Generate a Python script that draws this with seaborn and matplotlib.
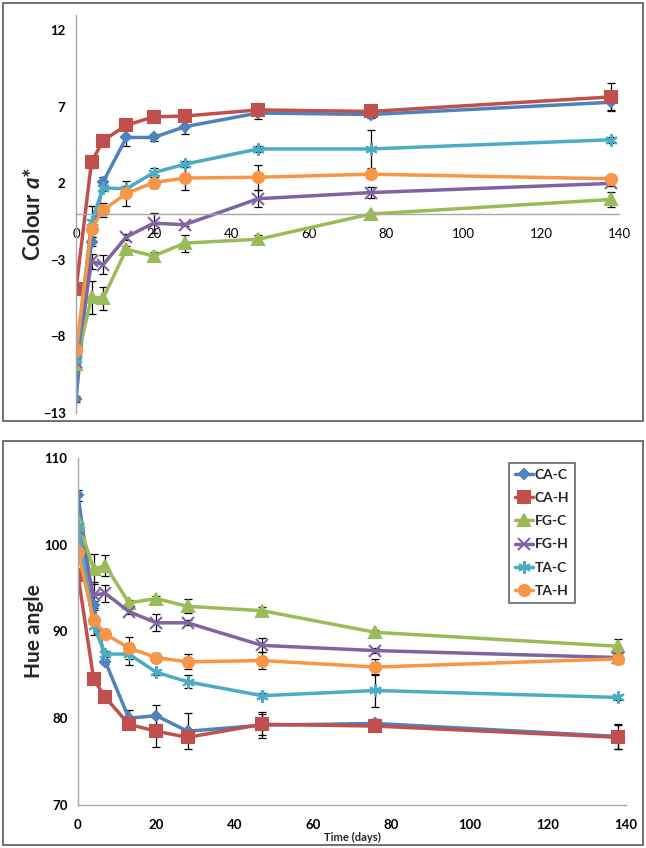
import numpy as np
import pandas as pd
import seaborn as sns
from matplotlib import pyplot as plt
from matplotlib.patches import Rectangle

# storage time (days)
days = [0, 4, 7, 13, 20, 28, 47, 76, 138]
series = ['CA-C', 'CA-H', 'FG-C', 'FG-H', 'TA-C', 'TA-H']

# colour a* values
a_ca_c = [-12.1, -1.8, 2.1, 5.0, 5.0, 5.7, 6.6, 6.5, 7.3]
a_ca_h = [-4.9, 3.4, 4.8, 5.8, 6.35, 6.4, 6.8, 6.7, 7.65]
a_fg_c = [-9.8, -5.45, -5.5, -2.3, -2.75, -1.9, -1.65, 0.0, 0.95]
a_fg_h = [-9.7, -3.1, -3.3, -1.5, -0.6, -0.7, 1.0, 1.4, 2.0]
a_ta_c = [-9.5, -0.5, 1.7, 1.65, 2.7, 3.25, 4.25, 4.25, 4.85]
a_ta_h = [-8.9, -0.95, 0.25, 1.35, 2.05, 2.35, 2.4, 2.6, 2.3]

a_err_ca_c = [0.2, 0.3, 0.3, 0.55, 0.25, 0.5, 0.4, 0.2, 0.5]
a_err_ca_h = [0.2, 0.4, 0.2, 0.2, 0.2, 0.2, 0.2, 0.2, 0.9]
a_err_fg_c = [0.2, 1.1, 0.75, 0.2, 0.25, 0.55, 0.3, 0.1, 0.5]
a_err_fg_h = [0.2, 0.5, 0.65, 0.2, 0.65, 0.1, 0.55, 0.35, 0.2]
a_err_ta_c = [0.2, 1.0, 0.2, 0.2, 0.3, 0.2, 0.2, 1.25, 0.2]
a_err_ta_h = [0.2, 0.3, 0.45, 0.8, 0.35, 0.75, 0.8, 0.2, 0.2]

# hue angle values
h_ca_c = [105.7, 93.0, 86.5, 80.0, 80.3, 78.5, 79.2, 79.4, 77.9]
h_ca_h = [96.5, 84.5, 82.4, 79.3, 78.5, 77.8, 79.3, 79.1, 77.8]
h_fg_c = [102.7, 97.2, 97.6, 93.3, 93.8, 92.9, 92.4, 89.9, 88.3]
h_fg_h = [101.8, 94.2, 94.4, 92.3, 91.0, 91.0, 88.4, 87.8, 87.0]
h_ta_c = [102.2, 90.6, 87.4, 87.4, 85.3, 84.2, 82.6, 83.2, 82.4]
h_ta_h = [99.2, 91.3, 89.7, 88.1, 87.0, 86.5, 86.65, 85.9, 86.85]

h_err_ca_c = [0.6, 0.5, 0.3, 0.9, 1.2, 2.1, 1.5, 0.5, 1.4]
h_err_ca_h = [0.3, 0.5, 0.3, 0.3, 1.8, 0.5, 1.2, 0.3, 1.4]
h_err_fg_c = [0.4, 1.7, 1.25, 0.3, 0.3, 0.8, 0.4, 0.3, 0.8]
h_err_fg_h = [0.4, 1.5, 1.0, 0.3, 1.0, 0.3, 0.8, 0.3, 0.3]
h_err_ta_c = [0.4, 1.0, 0.3, 1.25, 0.3, 0.75, 0.3, 1.9, 0.3]
h_err_ta_h = [0.5, 0.4, 0.6, 1.3, 0.5, 0.85, 1.0, 0.9, 0.3]

colours = {'CA-C': '#4F81BD', 'CA-H': '#C0504D', 'FG-C': '#9BBB59',
           'FG-H': '#8064A2', 'TA-C': '#4BACC6', 'TA-H': '#F79646'}
markers = {'CA-C': 'D', 'CA-H': 's', 'FG-C': '^', 'FG-H': 'x',
           'TA-C': (6, 2, 0), 'TA-H': 'o'}
msizes = {'CA-C': 5, 'CA-H': 8, 'FG-C': 8, 'FG-H': 8, 'TA-C': 9, 'TA-H': 8}

a_vals = [a_ca_c, a_ca_h, a_fg_c, a_fg_h, a_ta_c, a_ta_h]
a_errs = [a_err_ca_c, a_err_ca_h, a_err_fg_c, a_err_fg_h, a_err_ta_c, a_err_ta_h]
h_vals = [h_ca_c, h_ca_h, h_fg_c, h_fg_h, h_ta_c, h_ta_h]
h_errs = [h_err_ca_c, h_err_ca_h, h_err_fg_c, h_err_fg_h, h_err_ta_c, h_err_ta_h]


def long_frame(vals, errs):
    rows = []
    for name, v, e in zip(series, vals, errs):
        for d, y, s in zip(days, v, e):
            rows.append({'day': d, 'value': y, 'err': s, 'sample': name})
    return pd.DataFrame(rows)


def draw_panel(ax, df):
    handles = []
    for name in series:
        sub = df[df['sample'] == name]
        ax.errorbar(sub['day'], sub['value'], yerr=sub['err'], fmt='none',
                    ecolor='black', elinewidth=0.9, capsize=3, capthick=0.9, zorder=1)
    for name in series:
        sub = df[df['sample'] == name]
        n_before = len(ax.get_lines())
        sns.lineplot(data=sub, x='day', y='value', color=colours[name],
                     marker=markers[name], markersize=msizes[name],
                     markeredgecolor=colours[name], markeredgewidth=1.5,
                     linewidth=2.5, ax=ax, label=name, legend=False, zorder=2)
        handles.append(ax.get_lines()[n_before])
    ax.set_xlim(0, 140)
    ax.set_xticks(range(0, 141, 20))
    for s in ['top', 'right']:
        ax.spines[s].set_visible(False)
    for s in ['left', 'bottom']:
        ax.spines[s].set_color('#A6A6A6')
        ax.spines[s].set_linewidth(1)
    ax.tick_params(colors='black', direction='out', length=4, width=1,
                   labelsize=9.5, color='#A6A6A6')
    for t in ax.get_xticklabels() + ax.get_yticklabels():
        t.set_fontweight('bold')
    ax.grid(False)
    return handles


sns.set_theme(style='white')
plt.rcParams['font.family'] = ['Lato', 'DejaVu Sans']
plt.rcParams['mathtext.fontset'] = 'custom'
plt.rcParams['mathtext.it'] = 'Lato:italic:bold'
plt.rcParams['mathtext.rm'] = 'Lato:bold'

fig = plt.figure(figsize=(6.46, 8.48), dpi=100)

# panel frames
fig.patches.append(Rectangle((3 / 646, 1 - 421 / 848), 640 / 646, 418 / 848,
                             transform=fig.transFigure, fill=False,
                             edgecolor='#595959', linewidth=1.2))
fig.patches.append(Rectangle((3 / 646, 1 - 845 / 848), 640 / 646, 404 / 848,
                             transform=fig.transFigure, fill=False,
                             edgecolor='#595959', linewidth=1.2))

ax1 = fig.add_axes([76 / 646, 1 - 413 / 848, 543 / 646, 398 / 848])
df_a = long_frame(a_vals, a_errs)
draw_panel(ax1, df_a)
ax1.set_ylim(-13, 13)
ax1.set_yticks([-13, -8, -3, 2, 7, 12])
for t in ax1.get_yticklabels():
    t.set_fontweight('bold')
ax1.spines['bottom'].set_position(('data', 0))
ax1.set_xlabel('')
ax1.set_ylabel('Colour $a$*', fontsize=16, fontweight='bold', labelpad=-1)
ax1.tick_params(axis='x', pad=6)

ax2 = fig.add_axes([78 / 646, 1 - 805 / 848, 548 / 646, 347 / 848])
df_h = long_frame(h_vals, h_errs)
handles = draw_panel(ax2, df_h)
ax2.set_ylim(70, 110)
ax2.set_yticks(range(70, 111, 10))
for t in ax2.get_yticklabels():
    t.set_fontweight('bold')
ax2.set_ylabel('Hue angle', fontsize=15, fontweight='bold', labelpad=0)
ax2.set_xlabel('Time (days)', fontsize=8, fontweight='bold', labelpad=1)
ax2.tick_params(axis='x', pad=6)

leg = ax2.legend(handles, series, loc='upper left', bbox_to_anchor=(0.786, 0.986),
                 frameon=True, fancybox=False, edgecolor='#404040',
                 handlelength=1.3, handletextpad=0.1, labelspacing=0.8,
                 borderpad=0.45, borderaxespad=0,
                 prop={'weight': 'bold', 'size': 10})
leg.get_frame().set_linewidth(1.2)

fig.savefig('out.png', dpi=100)
